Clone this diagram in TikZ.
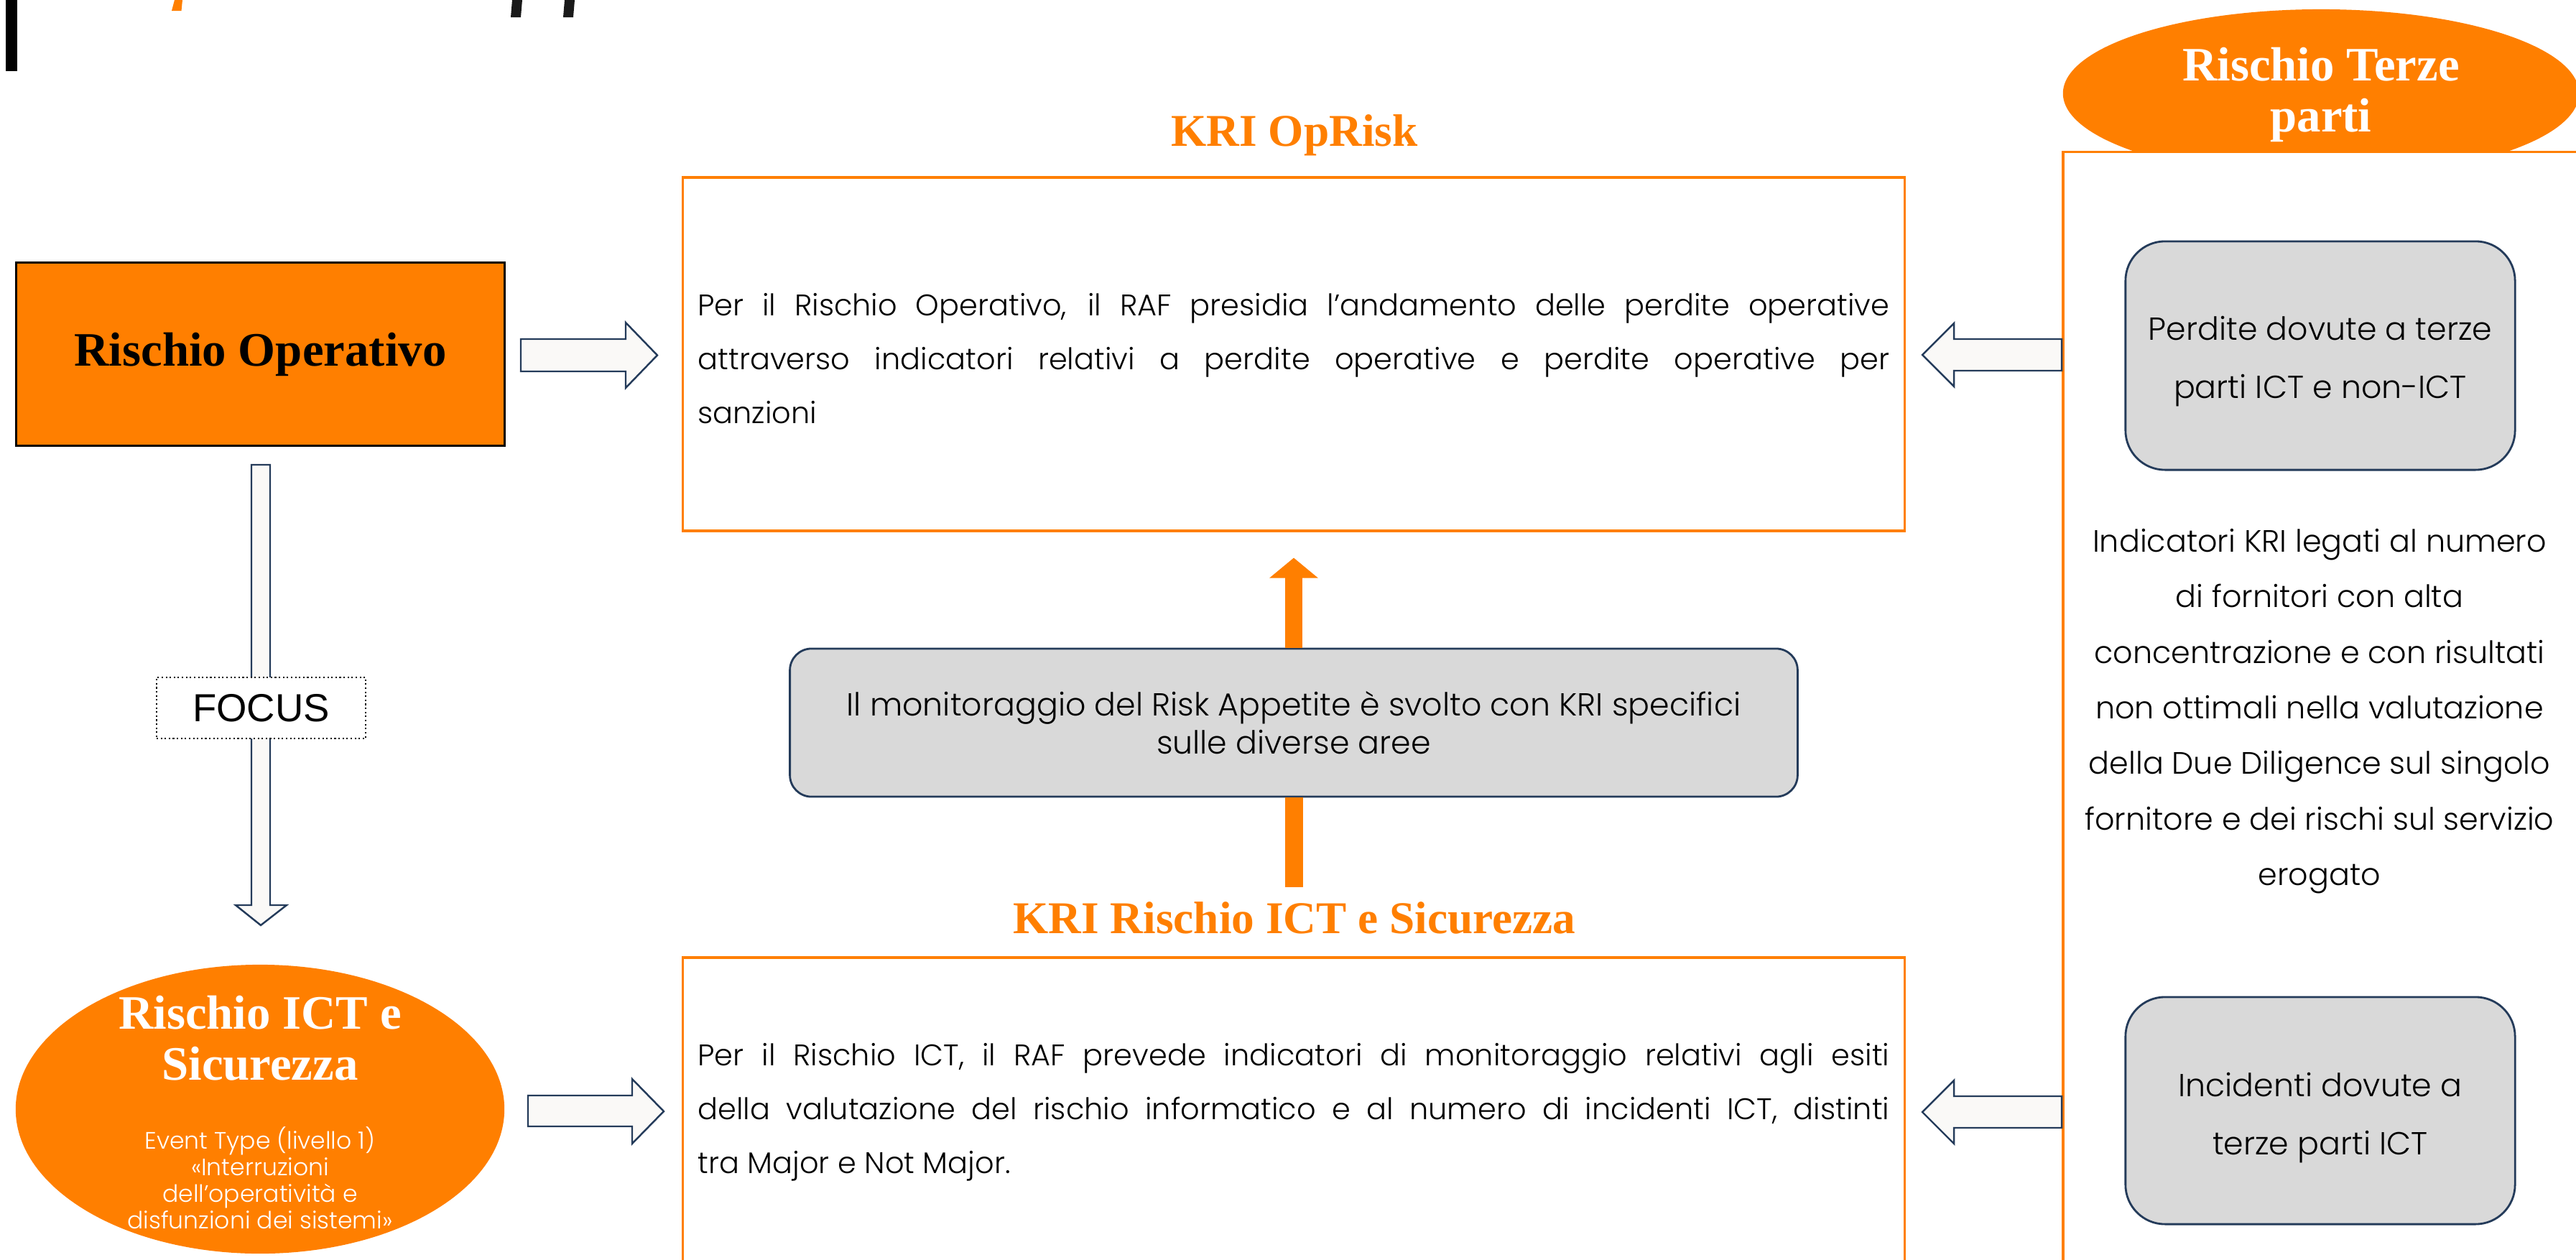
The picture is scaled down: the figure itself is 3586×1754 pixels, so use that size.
\documentclass[tikz,border=0pt]{standalone}
\usepackage{fontspec}
\setmainfont{Poppins}[UprightFont={* Light}]
\newfontfamily\titlefont{Liberation Serif}
\newfontfamily\arialfont{Liberation Sans}
\usetikzlibrary{arrows.meta,shapes.geometric}
\definecolor{orangeC}{HTML}{FF7F00}
\definecolor{navyC}{HTML}{243B5A}
\definecolor{greyC}{HTML}{D9D9D9}
\definecolor{afill}{HTML}{FAF9F7}
\definecolor{blackC}{HTML}{1A1A1A}
\tikzset{
  obox/.style={draw=orangeC, line width=1.1pt, fill=white, inner sep=0pt},
  barrow/.style={draw=navyC, fill=afill, line width=0.7pt, line join=miter},
  gbox/.style={draw=navyC, fill=greyC, line width=0.8pt, inner sep=0pt},
  ttl/.style={font=\titlefont\bfseries\fontsize{18}{20}\selectfont, text=orangeC, inner sep=0pt},
  wttl/.style={font=\titlefont\bfseries\fontsize{19}{20.2}\selectfont, text=white, inner sep=0pt, align=center},
  body/.style={font=\fontsize{11.8}{21.3}\selectfont, inner sep=0pt},
  rbody/.style={font=\fontsize{12.6}{22.8}\selectfont, inner sep=0pt, align=center},
}
\begin{document}
\begin{tikzpicture}[x=0.01cm,y=-0.01cm]
\useasboundingbox (0,0) rectangle (3586,1754);
\clip (0,0) rectangle (3586,1754);

% cut-off fragments at the top
\fill[black] (8,0) rectangle (24,99);
\fill[orangeC] (243,0) -- (254,0) -- (252.5,15) -- (239,15) -- cycle;
\fill[blackC] (713,0) -- (727,0) -- (725,24) -- (711,24) -- cycle;
\fill[blackC] (786,0) -- (800,0) -- (798,24) -- (784,24) -- cycle;

% Rischio Operativo
\node[draw=black, fill=orangeC, line width=0.85pt, minimum width=6.79cm, minimum height=2.54cm, inner sep=0pt,
      font=\titlefont\bfseries\fontsize{19}{22}\selectfont] (ro) at (362.5,493) {Rischio Operativo};

% KRI OpRisk box
\node[obox, minimum width=17cm, minimum height=4.92cm] (k1) at (1801,493) {};
\node[ttl] (k1t) at (1802,188) {KRI OpRisk};
\node[body, text width=16.58cm, align=justify] (k1x) at (1801,499)
 {Per il Rischio Operativo, il RAF presidia l’andamento delle perdite operative\linebreak
  attraverso indicatori relativi a perdite operative e perdite operative per\linebreak
  sanzioni};

% KRI ICT box
\node[obox, minimum width=17cm, minimum height=5.34cm] (k2) at (1801,1600) {};
\node[ttl] (k2t) at (1802,1278) {KRI Rischio ICT e Sicurezza};
\node[body, text width=16.58cm, align=justify] (k2x) at (1801,1548)
 {Per il Rischio ICT, il RAF prevede indicatori di monitoraggio relativi agli esiti\linebreak
  della valutazione del rischio informatico e al numero di incidenti ICT, distinti\linebreak
  tra Major e Not Major.};

% middle grey box and orange arrows
\node[gbox, rounded corners=0.3cm, minimum width=14.02cm, minimum height=2.06cm,
      font=\fontsize{12.6}{15}\selectfont, align=center] (mid) at (1801,1006)
 {Il monitoraggio del Risk Appetite è svolto con KRI specifici\\sulle diverse aree};
\draw[orangeC, line width=0.24cm, -{Triangle[width=0.66cm,length=0.28cm]}] (mid.north) -- ++(0,-125);
\draw[orangeC, line width=0.25cm] (mid.south) -- ++(0,125);

% ICT ellipse
\node[ellipse, fill=orangeC, minimum width=6.80cm, minimum height=4.02cm, inner sep=0pt] (ict) at (362,1544) {};
\node[wttl] (ictt) at (362,1445) {Rischio ICT e\\Sicurezza};
\node[font=\fontsize{9.4}{10.5}\selectfont, text=white, align=center, inner sep=0pt] (icts) at (362,1640)
 {Event Type (livello 1)\\«Interruzioni\\dell'operatività e\\disfunzioni dei sistemi»};

% Terze parti ellipse and panel
\node[ellipse, fill=orangeC, minimum width=7.18cm, minimum height=2.34cm, inner sep=0pt] (tp) at (3231,130) {};
\node[obox, minimum width=7.78cm, minimum height=16.88cm] (panel) at (3261,1056) {};
\node[wttl] (tpt) at (3231,132) {Rischio Terze\\parti};

\node[gbox, rounded corners=0.55cm, minimum width=5.42cm, minimum height=3.18cm] (p1) at (3230,495) {};
\node[rbody] (p1x) at (3230,503) {Perdite dovute a terze\\parti ICT e non-ICT};
\node[rbody, font=\fontsize{12.2}{22}\selectfont] (pmid) at (3229,990)
 {Indicatori KRI legati al numero\\di fornitori con alta\\concentrazione e con risultati\\non ottimali nella valutazione\\della Due Diligence sul singolo\\fornitore e dei rischi sul servizio\\erogato};
\node[gbox, rounded corners=0.55cm, minimum width=5.42cm, minimum height=3.16cm] (p2) at (3230,1546) {};
\node[rbody] (p2x) at (3230,1556) {Incidenti dovute a\\terze parti ICT};

% block arrows
\draw[barrow] (725,472) -- (871,472) -- (871,449) -- (915,494.5) -- (871,540) -- (871,517) -- (725,517) -- cycle;
\draw[barrow] (735,1525) -- (880,1525) -- (880,1502) -- (924,1547) -- (880,1592) -- (880,1568) -- (735,1568) -- cycle;
\draw[barrow] (2870,472) -- (2720,472) -- (2720,450) -- (2676,494) -- (2720,538) -- (2720,516) -- (2870,516) -- cycle;
\draw[barrow] (2870,1526) -- (2720,1526) -- (2720,1504) -- (2676,1548) -- (2720,1592) -- (2720,1570) -- (2870,1570) -- cycle;
\draw[barrow] (350,647) -- (376,647) -- (376,1260) -- (399,1260) -- (363,1288) -- (328,1260) -- (350,1260) -- cycle;

% FOCUS label
\node[draw=black, densely dotted, line width=0.6pt, fill=white, minimum width=2.91cm, minimum height=0.85cm, inner sep=0pt,
      font=\arialfont\fontsize{15.5}{18}\selectfont] (focus) at (363.5,985.5) {FOCUS};
\end{tikzpicture}
\end{document}
